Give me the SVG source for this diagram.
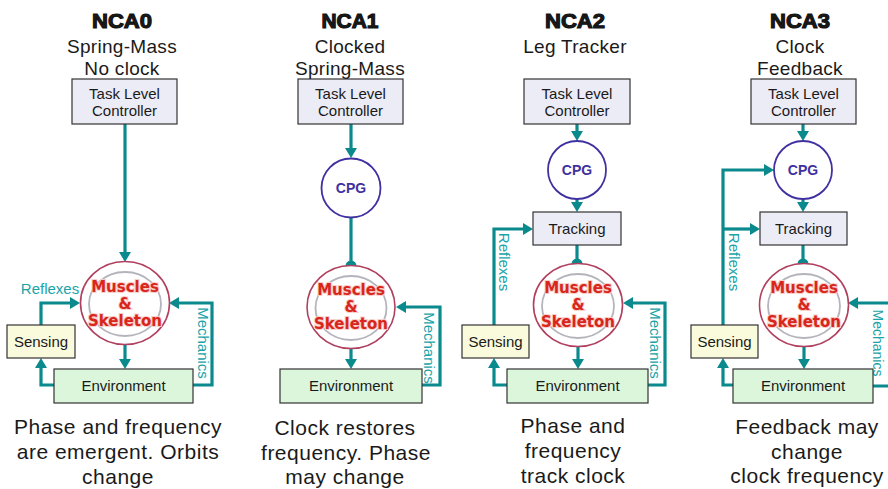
<svg xmlns="http://www.w3.org/2000/svg" width="888" height="489" viewBox="0 0 888 489">
<defs>
<style>
.t{font-family:"Liberation Sans",Arial,sans-serif;fill:#1a1a1a;text-anchor:middle}
.title{font-size:20px;font-weight:bold;stroke:#111;stroke-width:1.1}
.sub{font-size:19px;letter-spacing:0.3px}
.box{font-size:15px}
.cap{font-size:21px;letter-spacing:0.5px}
.lab{font-family:"Liberation Sans",Arial,sans-serif;font-size:15px;fill:#1aa3a8;text-anchor:middle}
.ms{font-family:"DejaVu Sans",Verdana,sans-serif;font-size:15px;font-weight:bold;fill:#d8261c;stroke:#f7cfc8;stroke-width:2;paint-order:stroke;text-anchor:middle}
.cpgt{font-family:"Liberation Sans",Arial,sans-serif;font-size:14px;font-weight:bold;fill:#3f31a0;text-anchor:middle}
.tlc{fill:#ececf7;stroke:#333;stroke-width:1.2}
.env{fill:#dcf6dc;stroke:#333;stroke-width:1.2}
.sen{fill:#fafadc;stroke:#333;stroke-width:1.2}
.cpg{fill:#fff;stroke:#3f31a0;stroke-width:1.8}
.outer{fill:#fff;stroke:#b0405e;stroke-width:1.6}
.inner{fill:none;stroke:#b4b4bc;stroke-width:1.8}
.c{fill:none;stroke:#0b8a8e;stroke-width:3.2;stroke-linejoin:miter}
.a{marker-end:url(#arr)}
.d{marker-end:url(#dot)}
</style>
<marker id="arr" markerUnits="userSpaceOnUse" markerWidth="10" markerHeight="12" viewBox="0 0 10 12" refX="2" refY="6" orient="auto">
<path d="M0,0 L10,6 L0,12 z" fill="#0b8a8e"/>
</marker>
<marker id="dot" markerUnits="userSpaceOnUse" markerWidth="12" markerHeight="12" viewBox="0 0 12 12" refX="6" refY="6" orient="auto">
<circle cx="6" cy="6" r="5.5" fill="#0b8a8e"/>
</marker>
</defs>
<rect width="888" height="489" fill="#fff"/>

<g id="connectors">
<!-- NCA0 -->
<path class="c a" d="M125,124 V254"/>
<path class="c a" d="M125,345 V361"/>
<path class="c a" d="M54,385 H41 V366"/>
<path class="c a" d="M41,325 V303 H72"/>
<path class="c a" d="M193,385 H212 V303 H177"/>
<!-- NCA1 -->
<path class="c a" d="M351,124 V150"/>
<path class="c d" d="M351,217 V266"/>
<path class="c a" d="M351,349 V361"/>
<path class="c a" d="M422,385 H440 V307 H404"/>
<!-- NCA2 -->
<path class="c a" d="M577,124 V133"/>
<path class="c a" d="M577,199 V204"/>
<path class="c d" d="M577,245 V264"/>
<path class="c a" d="M578,347 V361"/>
<path class="c a" d="M507,385 H494 V366"/>
<path class="c a" d="M494,325 V229 H525"/>
<path class="c a" d="M648,385 H665 V303 H631"/>
<!-- NCA3 -->
<path class="c a" d="M803,124 V133"/>
<path class="c a" d="M803,199 V204"/>
<path class="c d" d="M803,245 V264"/>
<path class="c a" d="M804,347 V361"/>
<path class="c a" d="M733,385 H723 V366"/>
<path class="c a" d="M723,325 V170 H766"/>
<path class="c a" d="M723,229 H752"/>
<path class="c a" d="M873,386 H892 V303 H856"/>
</g>

<g id="labels">
<text class="lab" x="50" y="294">Reflexes</text>
<text class="lab" transform="translate(198,343) rotate(90)">Mechanics</text>
<text class="lab" transform="translate(424,348) rotate(90)">Mechanics</text>
<text class="lab" transform="translate(499,262) rotate(90)">Reflexes</text>
<text class="lab" transform="translate(650,343) rotate(90)">Mechanics</text>
<text class="lab" transform="translate(729,262) rotate(90)">Reflexes</text>
<text class="lab" transform="translate(873,343) rotate(90)" style="font-size:14px">Mechanics</text>
</g>

<!-- NCA0 -->
<g id="nca0-title">
<text class="t title" x="122" y="28" textLength="60" lengthAdjust="spacingAndGlyphs">NCA0</text>
<text class="t sub" x="122" y="53">Spring-Mass</text>
<text class="t sub" x="122" y="75">No clock</text>
</g>
<g id="nca0-tlc">
<rect class="tlc" x="72" y="79" width="105" height="45"/>
<text class="t box" x="124.5" y="99">Task Level</text>
<text class="t box" x="124.5" y="116">Controller</text>
</g>
<g id="nca0-muscles">
<ellipse class="outer" cx="125" cy="303" rx="44.5" ry="41.5"/>
<ellipse class="inner" cx="125" cy="304" rx="36" ry="32"/>
<text class="ms" x="125" y="292">Muscles</text>
<text class="ms" x="125" y="309">&amp;</text>
<text class="ms" x="125" y="326">Skeleton</text>
</g>
<g id="nca0-sensing">
<rect class="sen" x="7" y="325" width="68" height="33"/>
<text class="t box" x="41" y="347">Sensing</text>
</g>
<g id="nca0-env">
<rect class="env" x="54" y="369" width="139" height="34"/>
<text class="t box" x="123.5" y="391">Environment</text>
</g>
<g id="nca0-caption">
<text class="t cap" x="118" y="434">Phase and frequency</text>
<text class="t cap" x="118" y="459">are emergent. Orbits</text>
<text class="t cap" x="118" y="484">change</text>
</g>

<!-- NCA1 -->
<g id="nca1-title">
<text class="t title" x="350" y="28" textLength="57" lengthAdjust="spacingAndGlyphs">NCA1</text>
<text class="t sub" x="350" y="53">Clocked</text>
<text class="t sub" x="350" y="75">Spring-Mass</text>
</g>
<g id="nca1-tlc">
<rect class="tlc" x="298" y="79" width="105" height="45"/>
<text class="t box" x="350.5" y="99">Task Level</text>
<text class="t box" x="350.5" y="116">Controller</text>
</g>
<g id="nca1-cpg">
<circle class="cpg" cx="351" cy="188" r="29.5"/>
<text class="cpgt" x="351" y="193">CPG</text>
</g>
<g id="nca1-muscles">
<ellipse class="outer" cx="351" cy="307" rx="44" ry="41.5"/>
<ellipse class="inner" cx="351" cy="308" rx="35.5" ry="32"/>
<text class="ms" x="351" y="295">Muscles</text>
<text class="ms" x="351" y="312">&amp;</text>
<text class="ms" x="351" y="329">Skeleton</text>
</g>
<g id="nca1-env">
<rect class="env" x="280" y="369" width="142" height="34"/>
<text class="t box" x="351" y="391">Environment</text>
</g>
<g id="nca1-caption">
<text class="t cap" x="345" y="435">Clock restores</text>
<text class="t cap" x="346" y="460">frequency. Phase</text>
<text class="t cap" x="345" y="484">may change</text>
</g>

<!-- NCA2 -->
<g id="nca2-title">
<text class="t title" x="575" y="28" textLength="60" lengthAdjust="spacingAndGlyphs">NCA2</text>
<text class="t sub" x="575" y="53">Leg Tracker</text>
</g>
<g id="nca2-tlc">
<rect class="tlc" x="524" y="79" width="106" height="45"/>
<text class="t box" x="577" y="99">Task Level</text>
<text class="t box" x="577" y="116">Controller</text>
</g>
<g id="nca2-cpg">
<circle class="cpg" cx="577" cy="170" r="29"/>
<text class="cpgt" x="577" y="175">CPG</text>
</g>
<g id="nca2-tracking">
<rect class="tlc" x="533" y="212" width="88" height="33"/>
<text class="t box" x="577" y="234">Tracking</text>
</g>
<g id="nca2-muscles">
<ellipse class="outer" cx="578" cy="305" rx="44.5" ry="41.5"/>
<ellipse class="inner" cx="578" cy="306" rx="36" ry="32"/>
<text class="ms" x="578" y="293">Muscles</text>
<text class="ms" x="578" y="310">&amp;</text>
<text class="ms" x="578" y="327">Skeleton</text>
</g>
<g id="nca2-sensing">
<rect class="sen" x="462" y="325" width="67" height="33"/>
<text class="t box" x="495.5" y="347">Sensing</text>
</g>
<g id="nca2-env">
<rect class="env" x="507" y="369" width="141" height="34"/>
<text class="t box" x="577.5" y="391">Environment</text>
</g>
<g id="nca2-caption">
<text class="t cap" x="573" y="433">Phase and</text>
<text class="t cap" x="573" y="458">frequency</text>
<text class="t cap" x="573" y="483">track clock</text>
</g>

<!-- NCA3 -->
<g id="nca3-title">
<text class="t title" x="800" y="28" textLength="60" lengthAdjust="spacingAndGlyphs">NCA3</text>
<text class="t sub" x="800" y="53">Clock</text>
<text class="t sub" x="800" y="75">Feedback</text>
</g>
<g id="nca3-tlc">
<rect class="tlc" x="751" y="79" width="105" height="45"/>
<text class="t box" x="803.5" y="99">Task Level</text>
<text class="t box" x="803.5" y="116">Controller</text>
</g>
<g id="nca3-cpg">
<circle class="cpg" cx="803" cy="170" r="29"/>
<text class="cpgt" x="803" y="175">CPG</text>
</g>
<g id="nca3-tracking">
<rect class="tlc" x="760" y="212" width="87" height="33"/>
<text class="t box" x="803.5" y="234">Tracking</text>
</g>
<g id="nca3-muscles">
<ellipse class="outer" cx="804" cy="305" rx="44.5" ry="41.5"/>
<ellipse class="inner" cx="804" cy="306" rx="36" ry="32"/>
<text class="ms" x="804" y="293">Muscles</text>
<text class="ms" x="804" y="310">&amp;</text>
<text class="ms" x="804" y="327">Skeleton</text>
</g>
<g id="nca3-sensing">
<rect class="sen" x="691" y="325" width="67" height="33"/>
<text class="t box" x="724.5" y="347">Sensing</text>
</g>
<g id="nca3-env">
<rect class="env" x="733" y="369" width="140" height="34"/>
<text class="t box" x="803" y="391">Environment</text>
</g>
<g id="nca3-caption">
<text class="t cap" x="807" y="434">Feedback may</text>
<text class="t cap" x="807" y="459">change</text>
<text class="t cap" x="807" y="483">clock frequency</text>
</g>
</svg>
